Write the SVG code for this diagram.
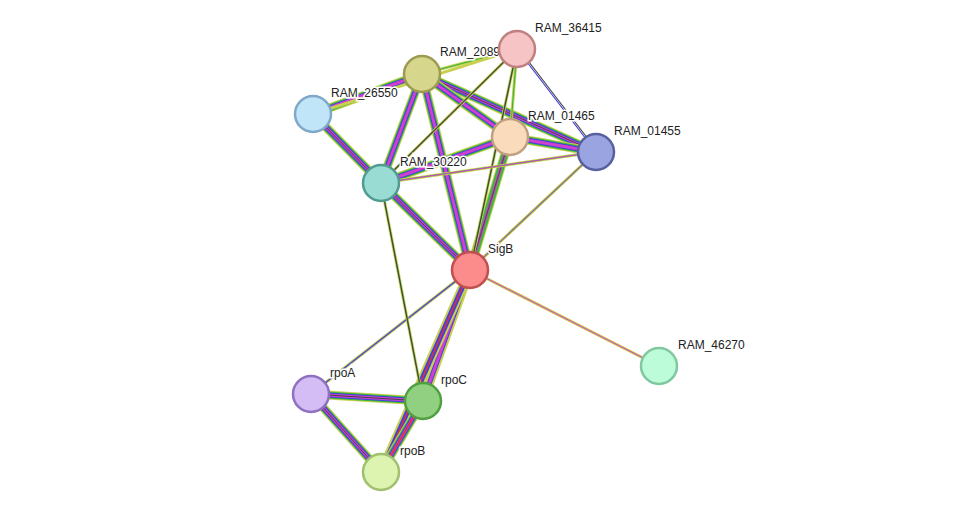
<svg xmlns="http://www.w3.org/2000/svg" width="976" height="518" viewBox="0 0 976 518">
<style>
line{fill:none}
.y{stroke:#c8d050;stroke-width:9}
.g{stroke:#3cb83c;stroke-width:7}
.b{stroke:#4040e0;stroke-width:5}
.m{stroke:#d040d0;stroke-width:3}
.k{stroke:#444;stroke-width:1}
.y2{stroke:#c8d050;stroke-width:3}
.g2{stroke:#3cb83c;stroke-width:1.2}
.m2{stroke:#d040d0;stroke-width:1}
.b2{stroke:#4040e0;stroke-width:1.2}
.k2{stroke:#444;stroke-width:1.2}
.r2{stroke:#e03030;stroke-width:1.5}
circle{stroke-width:2.5}
text{font-family:"Liberation Sans",Arial,sans-serif;font-size:12px;fill:#222;stroke:#fff;stroke-width:3;paint-order:stroke}
</style>
<rect width="976" height="518" fill="#fff"/>
<g id="connectors">
<!-- heavy multi edges -->
<g>
<line class="y" x1="470" y1="270" x2="381" y2="183"/><line class="g" x1="470" y1="270" x2="381" y2="183"/><line class="b" x1="470" y1="270" x2="381" y2="183"/><line class="m" x1="470" y1="270" x2="381" y2="183"/><line class="k" x1="470" y1="270" x2="381" y2="183"/>
<line class="y" x1="313" y1="114" x2="381" y2="183"/><line class="g" x1="313" y1="114" x2="381" y2="183"/><line class="b" x1="313" y1="114" x2="381" y2="183"/><line class="m" x1="313" y1="114" x2="381" y2="183"/><line class="k" x1="313" y1="114" x2="381" y2="183"/>
<line class="y" x1="470" y1="270" x2="422" y2="74"/><line class="g" x1="470" y1="270" x2="422" y2="74"/><line class="b" x1="470" y1="270" x2="422" y2="74"/><line class="m" x1="470" y1="270" x2="422" y2="74"/>
<line class="y" x1="470" y1="270" x2="510" y2="137"/><line class="g" x1="470" y1="270" x2="510" y2="137"/><line class="m" x1="470" y1="270" x2="510" y2="137"/><line class="k" x1="470" y1="270" x2="510" y2="137"/>
<line class="y" x1="470" y1="270" x2="423" y2="401"/><line class="b" x1="470" y1="270" x2="423" y2="401"/><line class="m" x1="470" y1="270" x2="423" y2="401"/>
<line class="y" x1="470" y1="270" x2="381" y2="472"/><line class="b" x1="470" y1="270" x2="381" y2="472"/><line class="r2" x1="470" y1="270" x2="381" y2="472"/>
<line class="y" x1="311" y1="394" x2="423" y2="401"/><line class="g" x1="311" y1="394" x2="423" y2="401"/><line class="b" x1="311" y1="394" x2="423" y2="401"/><line class="m" x1="311" y1="394" x2="423" y2="401"/><line class="k" x1="311" y1="394" x2="423" y2="401"/>
<line class="y" x1="311" y1="394" x2="381" y2="472"/><line class="g" x1="311" y1="394" x2="381" y2="472"/><line class="b" x1="311" y1="394" x2="381" y2="472"/><line class="m" x1="311" y1="394" x2="381" y2="472"/><line class="k" x1="311" y1="394" x2="381" y2="472"/>
<line class="y" x1="423" y1="401" x2="381" y2="472"/><line class="g" x1="423" y1="401" x2="381" y2="472"/><line class="b" x1="423" y1="401" x2="381" y2="472"/><line class="m" x1="423" y1="401" x2="381" y2="472"/><line class="r2" x1="423" y1="401" x2="381" y2="472"/>
<line class="y" x1="422" y1="74" x2="313" y2="114"/><line class="g" x1="422" y1="74" x2="313" y2="114"/><line class="b" x1="422" y1="74" x2="313" y2="114"/><line class="m" x1="422" y1="74" x2="313" y2="114"/>
<line class="y" x1="422" y1="74" x2="596" y2="152"/><line class="g" x1="422" y1="74" x2="596" y2="152"/><line class="b" x1="422" y1="74" x2="596" y2="152"/><line class="m" x1="422" y1="74" x2="596" y2="152"/><line class="k" x1="422" y1="74" x2="596" y2="152"/>
<line class="y" x1="422" y1="74" x2="510" y2="137"/><line class="g" x1="422" y1="74" x2="510" y2="137"/><line class="b" x1="422" y1="74" x2="510" y2="137"/><line class="m" x1="422" y1="74" x2="510" y2="137"/>
<line class="y" x1="422" y1="74" x2="381" y2="183"/><line class="g" x1="422" y1="74" x2="381" y2="183"/><line class="b" x1="422" y1="74" x2="381" y2="183"/><line class="m" x1="422" y1="74" x2="381" y2="183"/>
<line class="y" x1="510" y1="137" x2="596" y2="152"/><line class="g" x1="510" y1="137" x2="596" y2="152"/><line class="b" x1="510" y1="137" x2="596" y2="152"/><line class="m" x1="510" y1="137" x2="596" y2="152"/>
<line class="y" x1="510" y1="137" x2="381" y2="183"/><line class="g" x1="510" y1="137" x2="381" y2="183"/><line class="b" x1="510" y1="137" x2="381" y2="183"/><line class="m" x1="510" y1="137" x2="381" y2="183"/>
</g>
<!-- light edges -->
<g>
<line class="y2" x1="470" y1="270" x2="517" y2="49"/><line class="g2" x1="470" y1="270" x2="517" y2="49"/><line class="k2" x1="470" y1="270" x2="517" y2="49"/>
<line class="y2" x1="470" y1="270" x2="596" y2="152"/><line class="g2" x1="470" y1="270" x2="596" y2="152"/><line class="m2" x1="470" y1="270" x2="596" y2="152"/>
<line class="y2" x1="470" y1="270" x2="659" y2="366"/><line class="m2" x1="470" y1="270" x2="659" y2="366"/>
<line class="y2" x1="470" y1="270" x2="311" y2="394"/><line class="b2" x1="470" y1="270" x2="311" y2="394"/>
<line class="y2" x1="381" y1="183" x2="423" y2="401"/><line class="g2" x1="381" y1="183" x2="423" y2="401"/><line class="k2" x1="381" y1="183" x2="423" y2="401"/>
<line class="y2" x1="381" y1="183" x2="596" y2="152"/><line class="g2" x1="381" y1="183" x2="596" y2="152"/><line class="m2" x1="381" y1="183" x2="596" y2="152"/>
<line class="b2" x1="517" y1="49" x2="596" y2="152"/><line class="k2" x1="519" y1="49" x2="598" y2="152"/>
<line class="y2" x1="517" y1="49" x2="381" y2="183"/><line class="k2" x1="517" y1="49" x2="381" y2="183"/>
<line class="y2" x1="517" y1="49" x2="510" y2="137"/><line class="g2" x1="517" y1="49" x2="510" y2="137"/>
<line class="y2" x1="517" y1="49" x2="422" y2="74"/><line class="g2" x1="517" y1="49" x2="422" y2="74"/>
<line class="y2" x1="517" y1="49" x2="313" y2="114"/>
</g>
</g>
<g id="n_RAM_20890"><text x="440" y="56">RAM_20890</text><circle cx="422" cy="74" r="18" fill="#d6d68c" stroke="#9c9c50"/></g>
<g id="n_RAM_36415"><circle cx="517" cy="49" r="18" fill="#f6c4c4" stroke="#c08080"/><text x="535" y="32">RAM_36415</text></g>
<g id="n_RAM_26550"><circle cx="313" cy="114" r="18" fill="#c0e4f8" stroke="#80a8c8"/><text x="331" y="97">RAM_26550</text></g>
<g id="n_RAM_01465"><circle cx="510" cy="137" r="18" fill="#fadcbc" stroke="#c0a080"/><text x="528" y="120">RAM_01465</text></g>
<g id="n_RAM_01455"><circle cx="596" cy="152" r="18" fill="#9aa4e0" stroke="#5860a0"/><text x="614" y="135">RAM_01455</text></g>
<g id="n_RAM_30220"><circle cx="381" cy="183" r="18" fill="#98dcd4" stroke="#509c90"/><text x="400" y="166">RAM_30220</text></g>
<g id="n_SigB"><circle cx="470" cy="270" r="18" fill="#fc8c8c" stroke="#c05050"/><text x="488" y="253">SigB</text></g>
<g id="n_RAM_46270"><circle cx="659" cy="366" r="18" fill="#bcfcd8" stroke="#80c8a0"/><text x="678" y="349">RAM_46270</text></g>
<g id="n_rpoA"><circle cx="311" cy="394" r="18" fill="#d4bcf4" stroke="#9070c0"/><text x="330" y="377">rpoA</text></g>
<g id="n_rpoC"><circle cx="423" cy="401" r="18" fill="#90d080" stroke="#50a040"/><text x="441" y="384">rpoC</text></g>
<g id="n_rpoB"><circle cx="381" cy="472" r="18" fill="#dcf4b0" stroke="#a0c070"/><text x="400" y="455">rpoB</text></g>
</svg>
